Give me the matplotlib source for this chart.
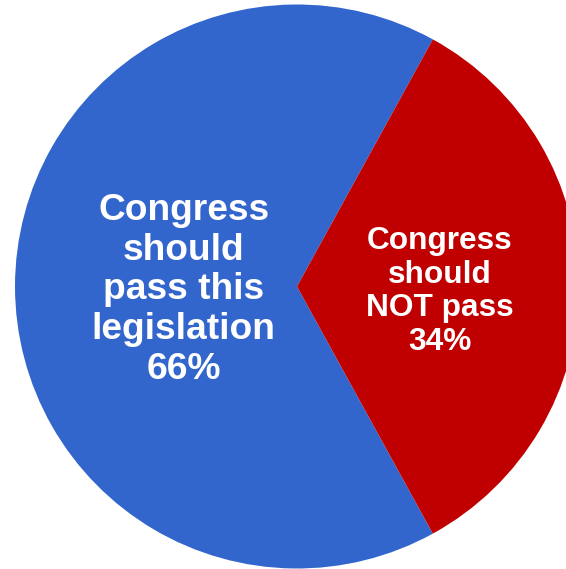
import matplotlib
matplotlib.use("Agg")
import matplotlib.pyplot as plt

# datos de la encuesta
labels = ["Congress\nshould\npass this\nlegislation", "Congress\nshould\nNOT pass"]
shares = [66, 34]
colors = ["#3366CC", "#C00000"]

plt.rcParams['font.family'] = ['Liberation Sans', 'DejaVu Sans']

W, H = 566, 569
fig = plt.figure(figsize=(W / 100, H / 100), dpi=100)

# circulo: centro (297, 286.5) px, radio 282 px
cx, cy, r = 297, 286.5, 282
ax = fig.add_axes([(cx - r) / W, (H - cy - r) / H, 2 * r / W, 2 * r / H])
ax.pie(shares, colors=colors, startangle=shares[1] / 100 * 180,
       counterclock=True, radius=1, wedgeprops=dict(linewidth=0))
ax.set_xlim(-1, 1)
ax.set_ylim(-1, 1)
ax.set_aspect('equal')
ax.axis('off')

ax.text(-0.402, -0.012, f"{labels[0]}\n{shares[0]}%", color='white',
        fontsize=26.7, fontweight='bold', ha='center', va='center',
        linespacing=1.17)
ax.text(0.507, -0.018, f"{labels[1]}\n{shares[1]}%", color='white',
        fontsize=22.8, fontweight='bold', ha='center', va='center',
        linespacing=1.15)

fig.savefig("out.png", dpi=100)
